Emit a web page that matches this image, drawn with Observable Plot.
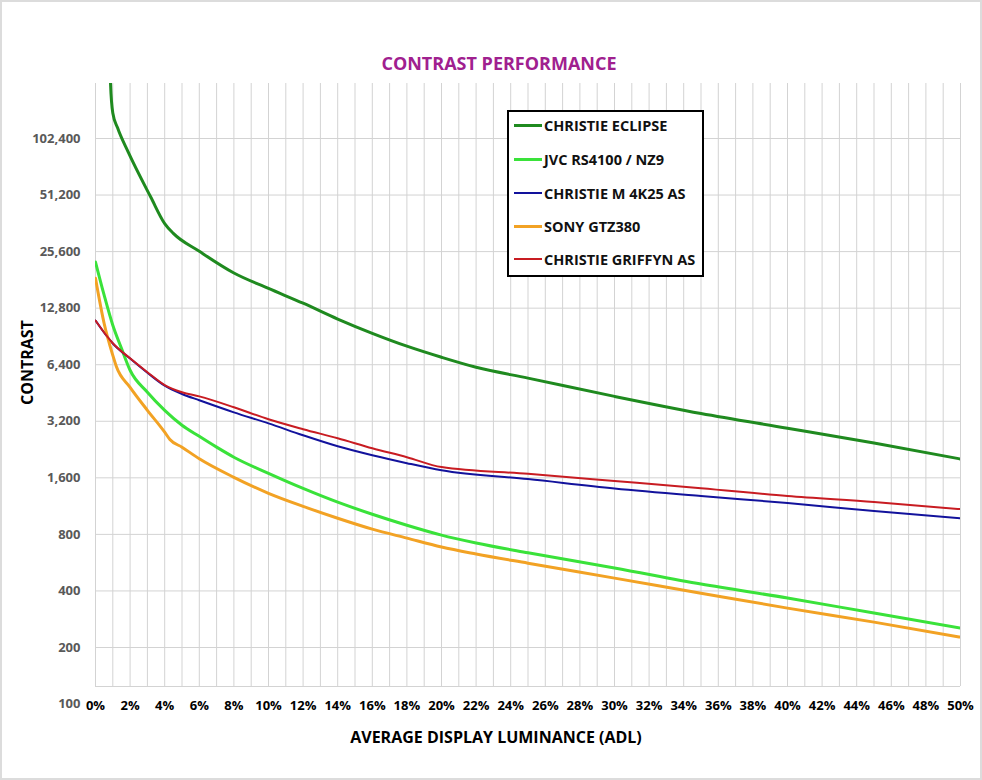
<!DOCTYPE html>
<html><head><meta charset="utf-8">
<script src="https://cdn.jsdelivr.net/npm/d3@7"></script>
<script src="https://cdn.jsdelivr.net/npm/@observablehq/plot@0.6"></script>
<style>
body{margin:0;background:#fff;font-family:"Open Sans",sans-serif;}
#wrap{position:relative;width:982px;height:780px;overflow:hidden;outline:2px solid #dcdcdc;outline-offset:-2px;}
#title{height:80px;position:relative;}
#title span{position:absolute;left:0;right:0;top:50px;text-align:center;color:#a0208f;font-weight:700;font-size:18px;line-height:26px;padding-left:16px;}
#legend{position:absolute;left:507px;top:110px;width:197px;height:167px;box-sizing:border-box;border:2px solid #000;background:#fff;}
.row{position:absolute;left:5px;height:20px;display:flex;align-items:center;font-weight:700;font-size:14.5px;color:#111;white-space:nowrap;}
.sw{width:28px;margin-right:2px;}
</style></head><body>
<div id="wrap"><div id="title"><span>CONTRAST PERFORMANCE</span></div><div id="chart"></div><div id="legend"></div></div>
<script>
// Series names and colours
const seriesNames = ["CHRISTIE ECLIPSE", "JVC RS4100 / NZ9", "CHRISTIE M 4K25 AS", "SONY GTZ380", "CHRISTIE GRIFFYN AS"];
const seriesColors = ["#1f8a1f", "#3ae23a", "#12129c", "#f2a224", "#c81c22"];

// Average display luminance (%) and contrast values
const eclipseAdl = [0.8, 0.87, 1.0, 1.27, 1.9, 3.2, 4.0, 4.5, 6, 8, 10, 12, 14, 16, 18, 20, 22, 25, 30, 35, 40, 45, 50];
const eclipseContrast = [400000, 200000, 140000, 117000, 86300, 49800, 36100, 32000, 25700, 19700, 16300, 13600, 11200, 9400, 8030, 7010, 6200, 5430, 4340, 3520, 2940, 2450, 2015];

const jvcAdl = [0, 0.5, 1, 1.5, 2, 3, 4, 5, 6, 7, 8, 10, 12, 14, 16, 18, 20, 22, 25, 30, 35, 40, 45, 50];
const jvcContrast = [22500, 15000, 10380, 7820, 5980, 4570, 3660, 3050, 2660, 2330, 2060, 1690, 1405, 1187, 1024, 895, 793, 720, 638, 530, 435, 367, 305, 254];

const m4k25Adl = [0, 1, 2, 3, 4, 5, 6, 8, 10, 12, 14, 16, 18, 20, 25, 30, 35, 40, 45, 50];
const m4k25Contrast = [11000, 8300, 6900, 5800, 4950, 4470, 4140, 3570, 3120, 2695, 2355, 2110, 1915, 1755, 1575, 1405, 1280, 1175, 1065, 975];

const sonyAdl = [0, 0.5, 1, 1.2, 2, 3, 4, 4.3, 5, 6, 8, 10, 12, 14, 16, 18, 20, 22, 25, 30, 35, 40, 45, 50];
const sonyContrast = [18450, 10600, 7180, 6280, 4850, 3660, 2800, 2560, 2330, 2020, 1610, 1323, 1128, 975, 853, 764, 685, 629, 562, 468, 389, 324, 273, 227];

const griffynAdl = [0, 1, 2, 3, 4, 5, 6, 8, 10, 12, 14, 16, 18, 20, 25, 30, 35, 40, 45, 50];
const griffynContrast = [11000, 8330, 6920, 5840, 4990, 4570, 4340, 3800, 3280, 2905, 2600, 2300, 2060, 1825, 1680, 1540, 1410, 1280, 1190, 1090];

// Ticks
const yGridTicks = [200, 400, 800, 1600, 3200, 6400, 12800, 25600, 51200, 102400];
const yLabelTicks = [100, ...yGridTicks];
const xLabelTicks = d3.range(0, 51, 2);
const xGridTicks = d3.range(0, 51, 1);
const yDomain = [124, 200900];

const seriesData = [
  [eclipseAdl, eclipseContrast, 3],
  [jvcAdl, jvcContrast, 3],
  [m4k25Adl, m4k25Contrast, 2],
  [sonyAdl, sonyContrast, 3],
  [griffynAdl, griffynContrast, 2]
];
const rows = seriesData.flatMap(([xs, ys], k) => xs.map((x, i) => ({name: seriesNames[k], adl: x, contrast: ys[i]})));

const grid = "#d3d3d3";
const fmt = d3.format(",");
const chart = Plot.plot({
  width: 982, height: 700,
  marginLeft: 95, marginRight: 22, marginTop: 3, marginBottom: 94,
  style: {fontFamily: "'Open Sans', sans-serif", background: "transparent", overflow: "visible"},
  x: {domain: [0, 50]},
  y: {type: "log", domain: yDomain, axis: null},
  marks: [
    Plot.gridX(xGridTicks, {stroke: grid, strokeOpacity: 1}),
    Plot.gridY(yGridTicks, {stroke: grid, strokeOpacity: 1}),
    Plot.ruleY([yDomain[0]], {stroke: grid}),
    Plot.axisX(xLabelTicks, {tickSize: 0, tickPadding: 14, tickFormat: d => d + "%", fontWeight: "bold", fontSize: 13, fill: "#000", label: null}),
    Plot.text(yLabelTicks, {y: d => d, text: d => fmt(d), frameAnchor: "left", textAnchor: "end", dx: -15, fontWeight: "bold", fontSize: 13, fill: "#595959"}),
    ...seriesNames.map((name, k) => Plot.line(rows.filter(d => d.name === name), {
      x: "adl", y: "contrast", stroke: seriesColors[k], strokeWidth: seriesData[k][2], curve: "monotone-x", clip: true
    })),
    Plot.text(["CONTRAST"], {text: d => d, frameAnchor: "left", rotate: -90, dx: -68, dy: 20, fontSize: 16, fontWeight: "bold", fill: "#000"}),
    Plot.text(["AVERAGE DISPLAY LUMINANCE (ADL)"], {text: d => d, frameAnchor: "bottom", dx: -32, dy: 56, fontSize: 16, fontWeight: "bold", fill: "#000"})
  ]
});
document.getElementById("chart").appendChild(chart);

// Legend (inside the plot area, as in the reference)
const legend = document.getElementById("legend");
const rowCenters = [15, 49, 83, 116, 149];
seriesNames.forEach((name, k) => {
  const r = document.createElement("div");
  r.className = "row";
  r.style.top = (rowCenters[k] - 12) + "px";
  const sw = document.createElement("span");
  sw.className = "sw";
  sw.style.borderTop = seriesData[k][2] + "px solid " + seriesColors[k];
  r.appendChild(sw);
  r.appendChild(document.createTextNode(name));
  legend.appendChild(r);
});
</script>
</body></html>
